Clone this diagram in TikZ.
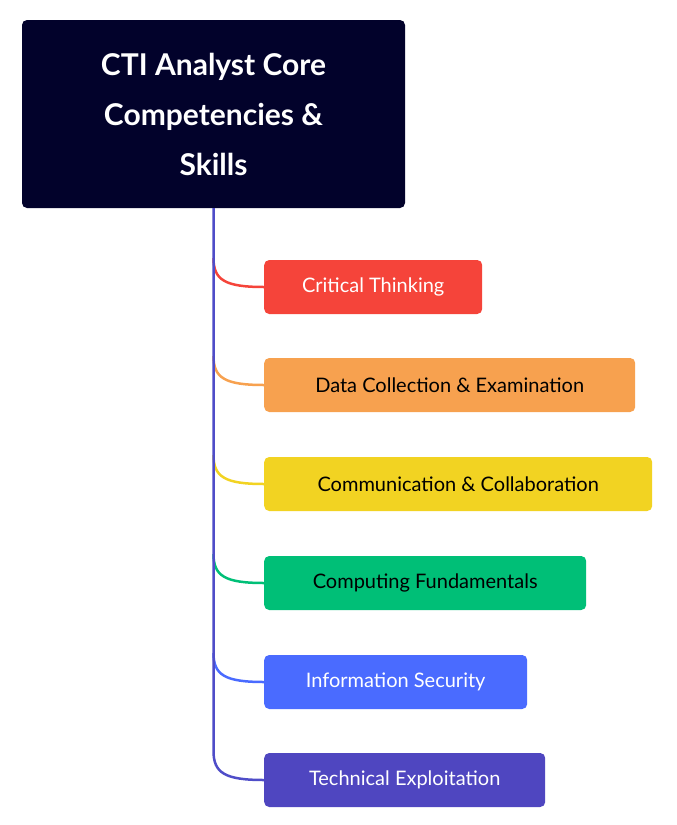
\documentclass[tikz,border=0pt]{standalone}
\usepackage{fontspec}
\setmainfont{Lato}
\definecolor{rootcol}{HTML}{02022B}
\definecolor{trunkcol}{HTML}{4F4DC8}
\definecolor{redcol}{HTML}{F5443A}
\definecolor{orangecol}{HTML}{F7A14F}
\definecolor{yellowcol}{HTML}{F2D322}
\definecolor{greencol}{HTML}{00BF77}
\definecolor{bluecol}{HTML}{4A6BFF}
\definecolor{purplecol}{HTML}{4F46C0}
\tikzset{
  rootbox/.style={rectangle,rounded corners=5pt,fill=rootcol,text=white,minimum width=383pt,minimum height=188pt,align=center,font=\fontsize{30}{50}\selectfont\bfseries},
  skillbox/.style={rectangle,rounded corners=5pt,anchor=west,minimum height=54pt,inner xsep=22pt,font=\fontsize{20}{24}\selectfont},
  branch/.style={line width=2.5pt}
}
\begin{document}
\begin{tikzpicture}[x=1pt,y=-1pt]
\useasboundingbox (0,0) rectangle (677,825);
\node [rootbox] (root) at (213.5,114) {CTI Analyst Core\\Competencies \&\\Skills};
\node [skillbox,fill=redcol,text=white,minimum width=218pt] (crit) at (264,287) {Critical Thinking};
\node [skillbox,fill=orangecol,text=black,minimum width=371pt] (data) at (264,385) {Data Collection \& Examination};
\node [skillbox,fill=yellowcol,text=black,minimum width=388pt] (comm) at (264,484) {Communication \& Collaboration};
\node [skillbox,fill=greencol,text=black,minimum width=322pt] (comp) at (264,583) {Computing Fundamentals};
\node [skillbox,fill=bluecol,text=white,minimum width=263pt] (info) at (264,682) {Information Security};
\node [skillbox,fill=purplecol,text=white,minimum width=281pt] (tech) at (264,780) {Technical Exploitation};
% branch starts on the trunk
\coordinate (c1) at (213.5,258);
\coordinate (c2) at (213.5,356);
\coordinate (c3) at (213.5,455);
\coordinate (c4) at (213.5,554);
\coordinate (c5) at (213.5,653);
\coordinate (c6) at (213.5,751);
\draw [branch,redcol] (c1) .. controls (213.5,280) and (225,287) .. (crit.west);
\draw [branch,orangecol] (c2) .. controls (213.5,378) and (225,385) .. (data.west);
\draw [branch,yellowcol] (c3) .. controls (213.5,477) and (225,484) .. (comm.west);
\draw [branch,greencol] (c4) .. controls (213.5,576) and (225,583) .. (comp.west);
\draw [branch,bluecol] (c5) .. controls (213.5,675) and (225,682) .. (info.west);
\draw [branch,trunkcol] (root.south) -- (c6) .. controls (213.5,773) and (225,780) .. (tech.west);
\end{tikzpicture}
\end{document}
